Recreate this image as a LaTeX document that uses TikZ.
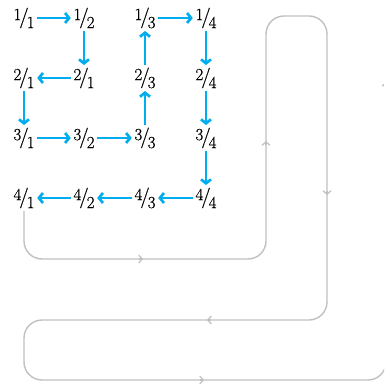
\documentclass[tikz,border=0pt]{standalone}
\usepackage{fontspec}
\newfontfamily\fracfont[FakeBold=0.6]{Latin Modern Roman}
\usetikzlibrary{arrows.meta}
\definecolor{cy}{RGB}{0,174,239}
\definecolor{gl}{RGB}{192,192,192}
\newcommand\fr[2]{\mbox{\fracfont\fontsize{17}{18}\selectfont\raisebox{3pt}{#1}\kern-2pt{\fontsize{20.5}{22}\selectfont/}\kern-2pt\raisebox{-5pt}{#2}}}
\tikzset{
  fnode/.style={inner sep=2.5pt},
  ar/.style={draw=cy, line width=2.7pt, -{Straight Barb[length=4pt,width=10pt]}},
  gp/.style={draw=gl, line width=1.4pt, rounded corners=18pt},
  gtip/.style={draw=gl, line width=1.2pt, -{Straight Barb[length=3.5pt,width=8pt]}}
}
\begin{document}
\begin{tikzpicture}[x=1pt,y=-1pt]
\useasboundingbox (0,0) rectangle (384,387);
\clip (0,0) rectangle (384,387);
\node[fnode] (n11) at (24,18) {\fr{1}{1}};
\node[fnode] (n12) at (84,18) {\fr{1}{2}};
\node[fnode] (n13) at (145,18) {\fr{1}{3}};
\node[fnode] (n14) at (206,18) {\fr{1}{4}};
\node[fnode] (n21) at (24,78) {\fr{2}{1}};
\node[fnode] (n22) at (84,78) {\fr{2}{1}};
\node[fnode] (n23) at (145,78) {\fr{2}{3}};
\node[fnode] (n24) at (206,78) {\fr{2}{4}};
\node[fnode] (n31) at (24,138) {\fr{3}{1}};
\node[fnode] (n32) at (84,138) {\fr{3}{2}};
\node[fnode] (n33) at (145,138) {\fr{3}{3}};
\node[fnode] (n34) at (206,138) {\fr{3}{4}};
\node[fnode] (n41) at (24,198) {\fr{4}{1}};
\node[fnode] (n42) at (84,198) {\fr{4}{2}};
\node[fnode] (n43) at (145,198) {\fr{4}{3}};
\node[fnode] (n44) at (206,198) {\fr{4}{4}};
% cyan arrows
\draw[ar] (n11) -- (n12);
\draw[ar] (n12) -- (n22);
\draw[ar] (n22) -- (n21);
\draw[ar] (n21) -- (n31);
\draw[ar] (n31) -- (n32);
\draw[ar] (n32) -- (n33);
\draw[ar] (n33) -- (n23);
\draw[ar] (n23) -- (n13);
\draw[ar] (n13) -- (n14);
\draw[ar] (n14) -- (n24);
\draw[ar] (n24) -- (n34);
\draw[ar] (n34) -- (n44);
\draw[ar] (n44) -- (n43);
\draw[ar] (n43) -- (n42);
\draw[ar] (n42) -- (n41);
% gray path
\coordinate (p1) at (24,259);
\coordinate (p2) at (266,259);
\coordinate (p3) at (266,16);
\coordinate (p4) at (327,16);
\coordinate (p5) at (327,320);
\coordinate (p6) at (24,320);
\coordinate (p7) at (24,380);
\coordinate (p8) at (386,380);
\coordinate (p9) at (386,-20);
\draw[gp] (n41.south) -- (p1) -- (p2) -- (p3) -- (p4) -- (p5) -- (p6) -- (p7) -- (p8) -- (p9);
\draw[gtip] (139,259) -- (143,259);
\draw[gtip] (266,145) -- (266,141);
\draw[gtip] (327,191) -- (327,195);
\draw[gtip] (211,320) -- (207,320);
\draw[gtip] (200,380) -- (204,380);
\draw[gtip] (386,86) -- (386,82);
\end{tikzpicture}
\end{document}
